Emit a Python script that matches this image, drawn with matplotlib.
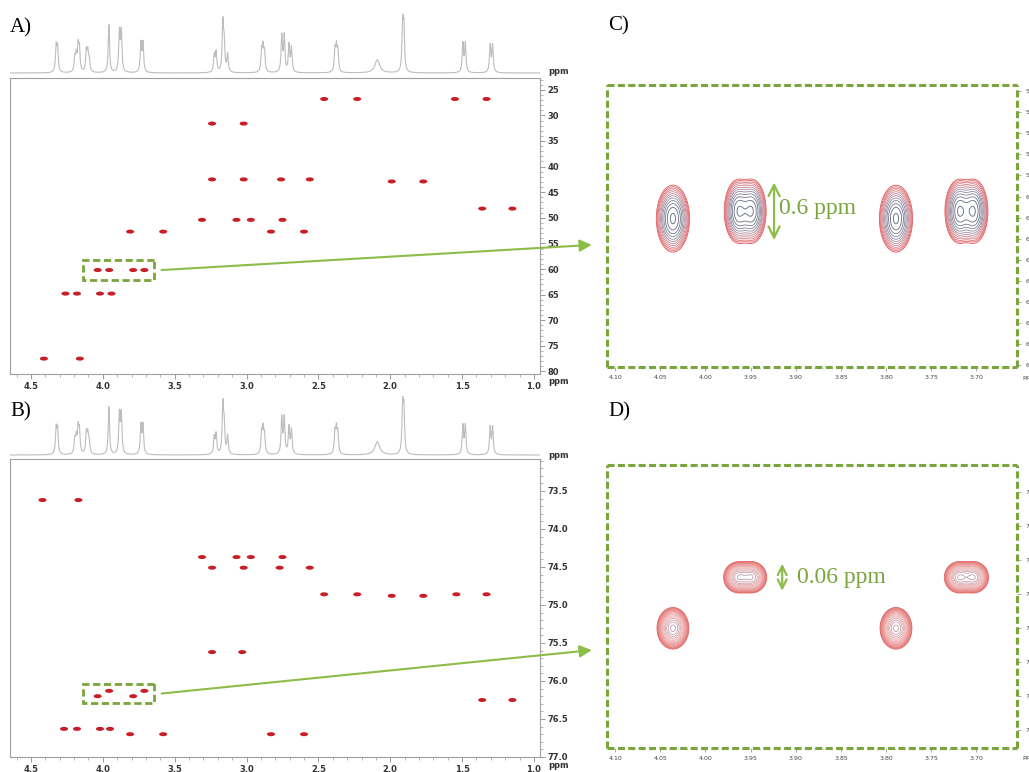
import numpy as np
import matplotlib
matplotlib.use("Agg")
import matplotlib.pyplot as plt
from matplotlib.path import Path
from matplotlib.patches import Rectangle, ConnectionPatch
from matplotlib.ticker import MultipleLocator, FormatStrFormatter
from matplotlib.colors import LinearSegmentedColormap

# ---------------- data ----------------
# 1D 1H spectrum: line positions (ppm), relative heights, half widths
h1_ppm = [4.325, 4.315, 4.195, 4.185, 4.172, 4.163, 4.115, 4.105, 4.095, 3.958,
          3.885, 3.872, 3.735, 3.721, 3.225, 3.212, 3.165, 3.156, 3.132, 2.895,
          2.885, 2.875, 2.755, 2.738, 2.705, 2.688, 2.385, 2.375, 2.365, 2.090,
          1.914, 1.905, 1.495, 1.478, 1.305, 1.288]
h1_int = [0.42, 0.40, 0.22, 0.26, 0.40, 0.36, 0.34, 0.30, 0.20, 0.80,
          0.66, 0.66, 0.48, 0.48, 0.28, 0.33, 0.80, 0.45, 0.30, 0.34,
          0.38, 0.30, 0.60, 0.60, 0.45, 0.40, 0.35, 0.38, 0.33, 0.22,
          0.78, 0.70, 0.48, 0.48, 0.45, 0.45]
h1_hw = [0.0055] * 29 + [0.02] + [0.0055] * 6

# Panel A cross peaks (1H ppm, 13C ppm)
a_h = [2.46, 2.23, 1.55, 1.33,
       3.24, 3.02,
       3.24, 3.02, 2.76, 2.56, 1.99, 1.77,
       3.31, 3.07, 2.97, 2.75,
       3.81, 3.58, 2.83, 2.60,
       1.36, 1.15,
       4.036, 3.956, 3.789, 3.711,
       4.26, 4.18, 4.02, 3.94,
       4.41, 4.16]
a_c = [26.8, 26.8, 26.8, 26.8,
       31.6, 31.6,
       42.5, 42.5, 42.5, 42.5, 42.9, 42.9,
       50.4, 50.4, 50.4, 50.4,
       52.7, 52.7, 52.7, 52.7,
       48.2, 48.2,
       60.2, 60.2, 60.2, 60.2,
       64.8, 64.8, 64.8, 64.8,
       77.5, 77.5]

# Panel B cross peaks (1H ppm, indirect ppm)
b_h = [4.42, 4.17,
       3.31, 3.07, 2.97, 2.75,
       3.24, 3.02, 2.77, 2.56,
       2.46, 2.23, 1.99, 1.77, 1.54, 1.33,
       3.24, 3.03,
       4.036, 3.956, 3.789, 3.711,
       1.36, 1.15,
       4.27, 4.18, 4.02, 3.95,
       3.81, 3.58, 2.83, 2.60]
b_y = [73.62, 73.62,
       74.37, 74.37, 74.37, 74.37,
       74.51, 74.51, 74.51, 74.51,
       74.86, 74.86, 74.88, 74.88, 74.86, 74.86,
       75.62, 75.62,
       76.20, 76.13, 76.20, 76.13,
       76.25, 76.25,
       76.63, 76.63, 76.63, 76.63,
       76.70, 76.70, 76.70, 76.70]

# Zoomed region peaks (panels C and D)
zoom_h = [4.036, 3.956, 3.789, 3.711]
zoom_mult = [1, 2, 1, 2]
zoom_split = [0.0, 0.015, 0.0, 0.016]
c_y = [60.21, 60.14, 60.21, 60.14]
d_y = [76.20, 76.125, 76.20, 76.125]
c_span = 0.6
d_span = 0.06

# ---------------- style ----------------
W, H = 1029, 772
fig = plt.figure(figsize=(W / 100, H / 100), dpi=100)
GREEN = "#7aa43c"
GREEN_L = "#8cbd48"
RED = "#c81e28"
SERIF = ["Liberation Serif", "DejaVu Serif"]


def fbox(l, t, r, b):
    return [l / W, 1 - b / H, (r - l) / W, (b - t) / H]


ell = Path.unit_circle()
ell = Path(ell.vertices * np.array([1.0, 0.5]), ell.codes)

XL = (4.646, 0.958)
xg = np.linspace(XL[0], XL[1], 6000)
spec = np.zeros_like(xg)
for p, h, w in zip(h1_ppm, h1_int, h1_hw):
    spec += h / (1 + ((xg - p) / w) ** 2)


def style_main(ax, ylim, ymaj, ymin, yfmt):
    ax.set_xlim(*XL)
    ax.set_ylim(*ylim)
    for s in ax.spines.values():
        s.set_color("#a0a0a0")
        s.set_linewidth(0.8)
    ax.yaxis.tick_right()
    ax.xaxis.set_major_locator(MultipleLocator(0.5))
    ax.xaxis.set_minor_locator(MultipleLocator(0.1))
    ax.xaxis.set_major_formatter(FormatStrFormatter("%.1f"))
    ax.yaxis.set_major_locator(MultipleLocator(ymaj))
    ax.yaxis.set_minor_locator(MultipleLocator(ymin))
    ax.yaxis.set_major_formatter(FormatStrFormatter(yfmt))
    ax.tick_params(which="major", direction="out", length=3.5, width=0.6,
                   color="#888888", labelsize=6, labelcolor="#333333", pad=2)
    ax.tick_params(which="minor", direction="out", length=1.8, width=0.5,
                   color="#999999")
    for lab in ax.get_xticklabels() + ax.get_yticklabels():
        lab.set_fontweight("bold")


def draw_1d(ax):
    ax.plot(xg, spec, color="#bdbdbd", lw=0.8)
    ax.set_xlim(*XL)
    ax.set_ylim(-0.05, 1.12)
    ax.axis("off")


# Panel A
ax1A = fig.add_axes(fbox(10, 6, 540, 76))
draw_1d(ax1A)
axA = fig.add_axes(fbox(10, 78, 540, 374))
style_main(axA, (80.5, 22.7), 5, 1, "%d")
axA.scatter(a_h, a_c, s=34, marker=ell, color=RED, edgecolors="none", zorder=3)

# Panel B
ax1B = fig.add_axes(fbox(10, 388, 540, 458))
draw_1d(ax1B)
axB = fig.add_axes(fbox(10, 459, 540, 757))
style_main(axB, (77.0, 73.08), 0.5, 0.1, "%.1f")
axB.scatter(b_h, b_y, s=34, marker=ell, color=RED, edgecolors="none", zorder=3)

for (x, y) in [(548, 72), (548, 381), (548, 455), (548, 766)]:
    fig.text(x / W, 1 - y / H, "ppm", fontsize=6, fontweight="bold",
             color="#333333", va="center", ha="left")


# dashed boxes around zoomed region
def zoom_box(ax, ys, half):
    x0 = max(zoom_h) + 0.10
    x1 = min(zoom_h) - 0.07
    yc = (max(ys) + min(ys)) / 2
    ax.add_patch(Rectangle((x1, yc - half), x0 - x1, 2 * half, fill=False,
                           ec=GREEN, lw=2.0, ls=(0, (2.6, 1.3)), zorder=4))
    return x1, yc


# Zoom panels
cmapC = LinearSegmentedColormap.from_list("c", ["#e05858", "#d88a96", "#8a8aa0", "#5a6478"])
cmapD = LinearSegmentedColormap.from_list("d", ["#e06262", "#e88c8c", "#f0b4b4", "#c09aa6"])


def zoom_panel(ax, ys, xlim, ylim, sx, sy, ymaj, yfmt, cmap, nlev):
    ax.set_xlim(*xlim)
    ax.set_ylim(*ylim)
    gx = np.linspace(xlim[0], xlim[1], 500)
    gy = np.linspace(ylim[1], ylim[0], 500)
    X, Y = np.meshgrid(gx, gy)
    levels = np.geomspace(0.05, 0.93, nlev)
    cols = [cmap(i / (nlev - 1)) for i in range(nlev)]
    for x, y, m, j in zip(zoom_h, ys, zoom_mult, zoom_split):
        Z = np.zeros_like(X)
        if m == 1:
            Z += np.exp(-0.5 * ((X - x) / sx[0]) ** 2 - 0.5 * ((Y - y) / sy[0]) ** 2)
        else:
            for xo in (x - j / 2, x + j / 2):
                Z += np.exp(-0.5 * ((X - xo) / sx[1]) ** 2 - 0.5 * ((Y - y) / sy[1]) ** 2)
        Z /= Z.max()
        ax.contour(X, Y, Z, levels=levels, colors=cols, linewidths=0.6)
    for s in ax.spines.values():
        s.set_color(GREEN)
        s.set_linewidth(2.2)
        s.set_linestyle((0, (2.3, 1.1)))
        s.set_capstyle("butt")
    ax.yaxis.tick_right()
    ax.xaxis.set_major_locator(MultipleLocator(0.05))
    ax.xaxis.set_minor_locator(MultipleLocator(0.01))
    ax.xaxis.set_major_formatter(FormatStrFormatter("%.2f"))
    ax.yaxis.set_major_locator(MultipleLocator(ymaj))
    ax.yaxis.set_major_formatter(FormatStrFormatter(yfmt))
    ax.tick_params(which="major", direction="out", length=3, width=0.5,
                   color="#888888", labelsize=4.5, labelcolor="#444444", pad=3)
    ax.tick_params(which="minor", direction="out", length=1.5, width=0.4,
                   color="#aaaaaa")


axC = fig.add_axes(fbox(607, 85, 1017, 367))
zoom_panel(axC, c_y, (4.109, 3.655), (61.62, 58.94), (0.0075, 0.0065),
           (0.13, 0.125), 0.2, "%.1f", cmapC, 12)
axD = fig.add_axes(fbox(607, 465, 1017, 748))
zoom_panel(axD, d_y, (4.109, 3.655), (76.376, 75.96), (0.0072, 0.0068),
           (0.0125, 0.0095), 0.05, "%.2f", cmapD, 16)

fig.text(1022 / W, 1 - 378 / H, "ppm", fontsize=4.5, color="#444444", va="center")
fig.text(1022 / W, 1 - 758 / H, "ppm", fontsize=4.5, color="#444444", va="center")

# span arrows
xa = zoom_h[1] - 0.032
axC.annotate("", xy=(xa, c_y[1] - c_span / 2), xytext=(xa, c_y[1] + c_span / 2),
             arrowprops=dict(arrowstyle="<->", color=GREEN_L, lw=1.6, mutation_scale=20))
axC.text(xa - 0.006, c_y[1] - 0.03, f"{c_span:g} ppm", fontsize=17, family=SERIF,
         color=GREEN, va="center", ha="left")
xd = zoom_h[1] - 0.041
axD.annotate("", xy=(xd, d_y[1] - 0.024), xytext=(xd, d_y[1] + 0.024),
             arrowprops=dict(arrowstyle="<->", color=GREEN_L, lw=1.6, mutation_scale=16))
axD.text(xd - 0.016, d_y[1], f"{d_span:g} ppm", fontsize=17, family=SERIF,
         color=GREEN, va="center", ha="left")

# dashed boxes + connector arrows
for ax, ys, half, axZ, yb in [(axA, a_c[22:26], 1.95, axC, 0.433),
                              (axB, b_y[18:22], 0.13, axD, 0.346)]:
    x1, yc = zoom_box(ax, ys, half)
    con = ConnectionPatch(xyA=(x1 - 0.05, yc), coordsA=ax.transData,
                          xyB=(-0.037, yb), coordsB=axZ.transAxes,
                          arrowstyle="-|>", mutation_scale=18, color=GREEN_L,
                          lw=1.5, zorder=5)
    fig.add_artist(con)

# panel labels
for lab, x, y in [("A)", 10, 28), ("B)", 10, 412), ("C)", 608, 26), ("D)", 608, 412)]:
    fig.text(x / W, 1 - y / H, lab, fontsize=15, family=SERIF, va="center", ha="left")

fig.savefig("out.png", dpi=100)
